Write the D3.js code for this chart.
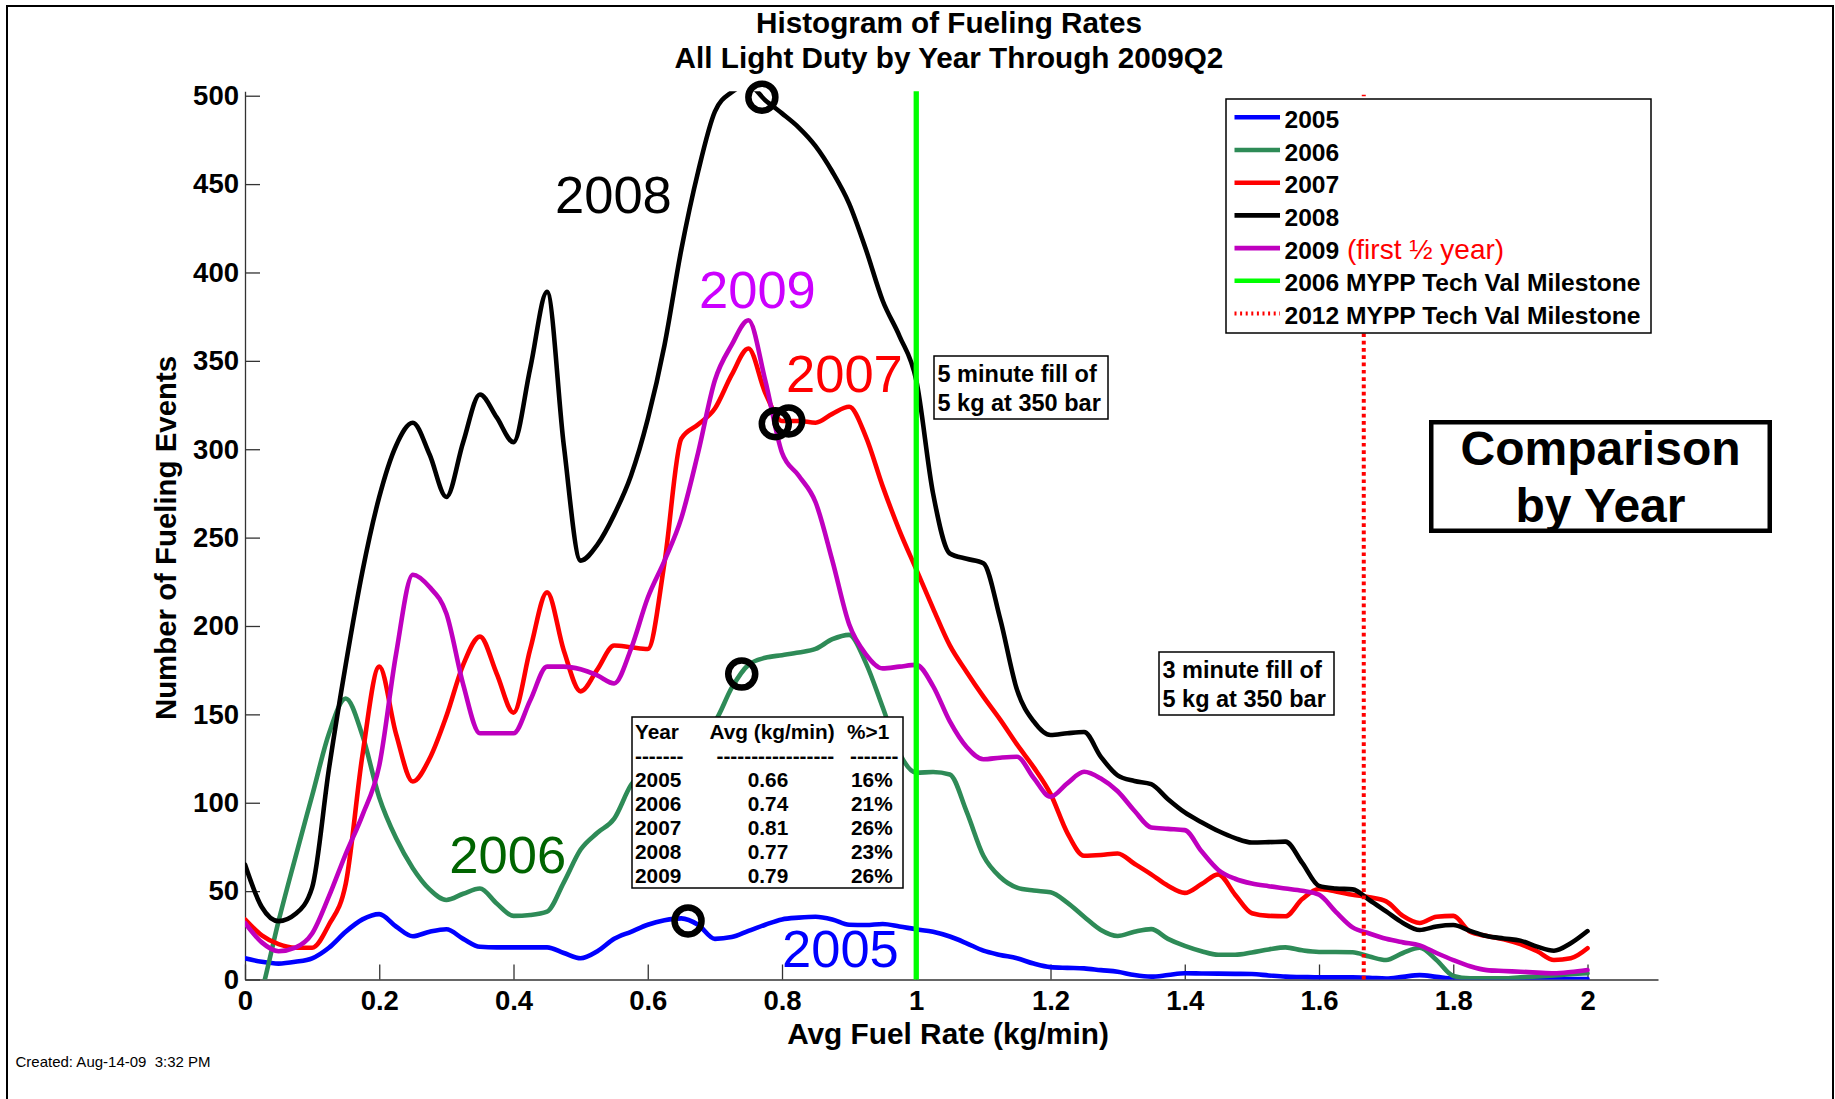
<!DOCTYPE html>
<html>
<head>
<meta charset="utf-8">
<title>Histogram of Fueling Rates</title>
<script src="https://cdn.jsdelivr.net/npm/d3@7"></script>
<style>
  html, body { margin: 0; padding: 0; background: #fff; }
  svg { display: block; font-family: "Liberation Sans", Arial, Helvetica, sans-serif; }
</style>
</head>
<body>
<svg id="chart" width="1835" height="1099"></svg>
<script>
// Average fueling rate bins (kg/min)
const rates = [0, 0.025, 0.05, 0.075, 0.1, 0.125, 0.15, 0.175, 0.2, 0.225,
  0.25, 0.275, 0.3, 0.325, 0.35, 0.375, 0.4, 0.425, 0.45, 0.475,
  0.5, 0.525, 0.55, 0.575, 0.6, 0.625, 0.65, 0.675, 0.7, 0.725,
  0.75, 0.775, 0.8, 0.825, 0.85, 0.875, 0.9, 0.925, 0.95, 0.975,
  1, 1.025, 1.05, 1.075, 1.1, 1.125, 1.15, 1.175, 1.2, 1.225,
  1.25, 1.275, 1.3, 1.325, 1.35, 1.375, 1.4, 1.425, 1.45, 1.475,
  1.5, 1.525, 1.55, 1.575, 1.6, 1.625, 1.65, 1.675, 1.7, 1.725,
  1.75, 1.775, 1.8, 1.825, 1.85, 1.875, 1.9, 1.925, 1.95, 1.975, 2];

// Number of fueling events per bin, by year
const events2005 = [12, 10, 9, 10, 12, 18, 27, 34, 37, 30,
  24.5, 27, 28.4, 23, 18.5, 18.2, 18.2, 18.2, 18.2, 15,
  12, 16, 23, 27, 31, 33.5, 34.6, 31, 23, 24,
  27.5, 31, 34, 35, 35.5, 34, 31, 30.8, 31.4, 30,
  28.4, 27, 24.3, 20.5, 16.3, 13.9, 12, 9, 7, 6.6,
  6.3, 5.3, 4.4, 2.5, 1.6, 2.5, 3.5, 3.4, 3.3, 3.2,
  3.1, 2.3, 1.6, 1.4, 1.2, 1.2, 1.2, 1, 0.5, 1.5,
  2.5, 1.5, 0.5, 0.4, 0.3, 0.3, 0.3, 0.3, 0.3, 0.3, 0.3];

const events2006 = [-40, -7, 33, 69, 104, 139, 159, 138, 103, 80,
  63, 51, 45, 48.5, 51.5, 43, 36, 36.5, 38.4, 55,
  73.5, 83, 91, 110, 120, 128, 134, 140, 146, 165,
  178, 182, 183.5, 185, 187, 192.5, 195, 179, 154, 128,
  117, 117.4, 116, 95, 70, 58, 52, 50.3, 49.3, 43.5,
  35.5, 28, 24.6, 27, 28.5, 23, 19, 16, 14, 14,
  15.3, 17, 18.2, 16.5, 15.6, 15.6, 15.4, 13, 11, 15,
  18, 11, 2, 0.7, 0.7, 0.7, 1.2, 1.7, 2.3, 3, 3.5];

const events2007 = [34, 25, 20, 18, 18, 31, 54, 127, 177, 139,
  112, 125, 149, 178, 194, 173, 151, 187, 219, 186,
  163, 175.5, 189, 188, 187, 236, 306, 314, 323, 342,
  357, 332, 316, 316, 315, 320, 324, 307, 279, 254,
  232, 210, 189, 174, 160, 147, 133, 120, 105, 83,
  70, 70.4, 71.3, 65.5, 59.5, 53, 49, 54, 59.5, 48,
  37.5, 36, 35.8, 45.5, 51.2, 49.8, 48, 46.5, 44.2, 36,
  32, 35.5, 36, 27, 24.6, 22.8, 20, 16, 11, 12, 17.7];

const events2008 = [65, 41, 33, 37, 52, 119, 178, 231, 273, 302,
  315, 297, 273, 304, 331, 318, 304, 346, 389, 302,
  237, 246, 263, 285, 317, 359, 413, 457, 491, 502,
  506, 497.5, 490, 482, 471.5, 457, 439, 413, 384, 364,
  339, 275, 241, 238, 235.5, 204, 164, 146, 138.3, 139.3,
  140, 126, 115.5, 112.3, 110.5, 102, 94.5, 89, 84, 80,
  77.5, 77.7, 78, 66, 53, 51.5, 51, 45, 38.5, 32,
  28, 30, 30.8, 27.5, 24.6, 23.2, 22, 18.6, 16.3, 20.5, 27.4];

const events2009 = [32, 21, 16, 18, 26, 47, 71, 93, 121, 184,
  229, 222, 207, 167, 139.3, 139.3, 139.3, 158, 177, 177,
  175.5, 172, 167.5, 187, 216, 237, 261, 298, 339, 359,
  373, 339, 298, 285, 270, 237, 201, 184, 176, 177,
  178, 166, 146, 131.5, 124.6, 125.5, 126, 114, 103.4, 111,
  117.5, 113.7, 106.5, 95.5, 86, 85.2, 84.5, 72.5, 62, 57,
  54.3, 52.8, 51.5, 50.2, 48, 38.3, 29.5, 26, 23, 21,
  19.3, 15, 11, 7.5, 5.3, 4.8, 4.4, 3.9, 3.5, 4.2, 5.4];

const years = ["2005", "2006", "2007", "2008", "2009"];
const yearColors = ["#0000ff", "#2e8b57", "#ff0000", "#000000", "#bf00bf"];

// Summary statistics per year
const avgRate = [0.66, 0.74, 0.81, 0.77, 0.79];
const avgRateText = ["0.66", "0.74", "0.81", "0.77", "0.79"];
const pctAbove1 = ["16%", "21%", "26%", "23%", "26%"];

// DOE MYPP technology validation milestones (kg/min): 5 kg in 5 min, 5 kg in 3 min
const milestoneRates = [1, 5 / 3];

const xTicks = [0, 0.2, 0.4, 0.6, 0.8, 1, 1.2, 1.4, 1.6, 1.8, 2];
const yTicks = [0, 50, 100, 150, 200, 250, 300, 350, 400, 450, 500];

const seriesValues = [events2005, events2006, events2007, events2008, events2009];
const series = years.map((y, i) => ({
  year: y,
  color: yearColors[i],
  avg: avgRate[i],
  points: rates.map((r, j) => ({ x: r, y: seriesValues[i][j] }))
}));

const svg = d3.select("#chart");
const FONT_BOLD = 700;

// Outer frame
svg.append("rect")
  .attr("x", 7).attr("y", 6).attr("width", 1826).attr("height", 1110)
  .attr("fill", "none").attr("stroke", "#000").attr("stroke-width", 2);

// Scales
const x = d3.scaleLinear().domain([0, 2.105]).range([245, 1658]);
const y = d3.scaleLinear().domain([0, 502.5]).range([979.5, 91.3]);

// Clip region for the plotted lines
svg.append("defs").append("clipPath").attr("id", "plot-clip")
  .append("rect")
  .attr("x", x(0)).attr("y", y(502.5))
  .attr("width", x(2.105) - x(0)).attr("height", y(0) - y(502.5));

// Axes (ticks point inward)
const xAxis = d3.axisBottom(x).tickValues(xTicks).tickFormat(d3.format("~g"))
  .tickSize(-15).tickSizeOuter(0).tickPadding(11);
const yAxis = d3.axisLeft(y).tickValues(yTicks).tickFormat(d3.format("d"))
  .tickSize(-15).tickSizeOuter(0).tickPadding(6);

const gx = svg.append("g").attr("transform", `translate(0,${y(0)})`).call(xAxis);
const gy = svg.append("g").attr("transform", `translate(${x(0)},0)`).call(yAxis);

[gx, gy].forEach(g => {
  g.select(".domain").attr("stroke", "#333").attr("stroke-width", 1.3);
  g.selectAll(".tick line").attr("stroke", "#333").attr("stroke-width", 1.3);
  g.selectAll(".tick text")
    .attr("fill", "#000")
    .style("font-family", "\"Liberation Sans\", Arial, sans-serif")
    .style("font-size", "27.5px")
    .style("font-weight", FONT_BOLD);
});

// Axis titles
svg.append("text")
  .attr("x", 948).attr("y", 1044)
  .attr("text-anchor", "middle")
  .style("font-size", "29.8px").style("font-weight", FONT_BOLD)
  .text("Avg Fuel Rate (kg/min)");

svg.append("text")
  .attr("transform", "translate(176,538) rotate(-90)")
  .attr("text-anchor", "middle")
  .style("font-size", "29.4px").style("font-weight", FONT_BOLD)
  .text("Number of Fueling Events");

// Title
svg.append("text")
  .attr("x", 949).attr("y", 33)
  .attr("text-anchor", "middle")
  .style("font-size", "29.7px").style("font-weight", FONT_BOLD)
  .text("Histogram of Fueling Rates");
svg.append("text")
  .attr("x", 949).attr("y", 68)
  .attr("text-anchor", "middle")
  .style("font-size", "29.7px").style("font-weight", FONT_BOLD)
  .text("All Light Duty by Year Through 2009Q2");

// Yearly histogram lines
const line = d3.line()
  .x(d => x(d.x))
  .y(d => y(d.y))
  .curve(d3.curveMonotoneX);

const linesG = svg.append("g").attr("clip-path", "url(#plot-clip)");
linesG.selectAll("path.series")
  .data(series)
  .join("path")
  .attr("class", "series")
  .attr("d", d => line(d.points))
  .attr("fill", "none")
  .attr("stroke", d => d.color)
  .attr("stroke-width", 4.6)
  .attr("stroke-linejoin", "round")
  .attr("stroke-linecap", "round");

// Milestone lines
svg.append("line")
  .attr("x1", x(milestoneRates[0])).attr("x2", x(milestoneRates[0]))
  .attr("y1", y(0)).attr("y2", y(502.5))
  .attr("stroke", "#00ff00").attr("stroke-width", 5.3);

svg.append("line")
  .attr("x1", x(milestoneRates[1])).attr("x2", x(milestoneRates[1]))
  .attr("y1", y(0)).attr("y2", y(500) - 1)
  .attr("stroke", "#ff0000").attr("stroke-width", 4)
  .attr("stroke-dasharray", "3.7 3.6");

// Average-rate markers on each curve
function valueAt(points, xv) {
  const i = d3.bisector(d => d.x).right(points, xv);
  const a = points[Math.max(0, i - 1)], b = points[Math.min(points.length - 1, i)];
  if (a === b) return a.y;
  const t = (xv - a.x) / (b.x - a.x);
  return a.y + t * (b.y - a.y);
}
svg.selectAll("circle.avg")
  .data(series)
  .join("circle")
  .attr("class", "avg")
  .attr("cx", d => x(d.avg))
  .attr("cy", d => y(valueAt(d.points, d.avg)))
  .attr("r", 13.5)
  .attr("fill", "none")
  .attr("stroke", "#000")
  .attr("stroke-width", 6.5);

// Year labels next to the curves
const yearLabels = [
  { text: "2008", x: 555, y: 213, color: "#000000" },
  { text: "2009", x: 699, y: 308.3, color: "#cc00ff" },
  { text: "2007", x: 786, y: 391.5, color: "#ff0000" },
  { text: "2006", x: 449.3, y: 872.7, color: "#006400" },
  { text: "2005", x: 782, y: 966.7, color: "#0000ff" }
];
svg.selectAll("text.year-label")
  .data(yearLabels)
  .join("text")
  .attr("class", "year-label")
  .attr("x", d => d.x).attr("y", d => d.y)
  .attr("fill", d => d.color)
  .style("font-size", "52.5px")
  .text(d => d.text);

// Fill-time annotation boxes
function noteBox(bx, by, bw, bh, lines) {
  const g = svg.append("g");
  g.append("rect").attr("x", bx).attr("y", by).attr("width", bw).attr("height", bh)
    .attr("fill", "#fff").attr("stroke", "#000").attr("stroke-width", 1.5);
  lines.forEach((t, i) => {
    g.append("text")
      .attr("x", bx + 3.5).attr("y", by + 25.5 + i * 29)
      .style("font-size", "23.5px").style("font-weight", FONT_BOLD)
      .text(t);
  });
}
noteBox(934, 356, 174, 63, ["5 minute fill of", "5 kg at 350 bar"]);
noteBox(1159, 652, 175, 63, ["3 minute fill of", "5 kg at 350 bar"]);

// Summary table
const table = svg.append("g");
table.append("rect").attr("x", 632).attr("y", 717).attr("width", 271).attr("height", 171)
  .attr("fill", "#fff").attr("stroke", "#000").attr("stroke-width", 1.5);
const tableFont = "20.8px";
const headRow = [
  { t: "Year", x: 635, anchor: "start" },
  { t: "Avg (kg/min)", x: 709.5, anchor: "start" },
  { t: "%>1", x: 847, anchor: "start" }
];
const dashRow = [
  { t: "-------", x: 635, anchor: "start" },
  { t: "-----------------", x: 716.5, anchor: "start" },
  { t: "-------", x: 850, anchor: "start" }
];
[headRow, dashRow].forEach((row, r) => {
  table.selectAll(null).data(row).join("text")
    .attr("x", d => d.x).attr("y", 738.5 + r * 24)
    .attr("text-anchor", d => d.anchor)
    .style("font-size", tableFont).style("font-weight", FONT_BOLD)
    .text(d => d.t);
});
years.forEach((yr, i) => {
  const by = 786.5 + i * 24;
  table.append("text").attr("x", 635).attr("y", by)
    .style("font-size", tableFont).style("font-weight", FONT_BOLD).text(yr);
  table.append("text").attr("x", 768).attr("y", by).attr("text-anchor", "middle")
    .style("font-size", tableFont).style("font-weight", FONT_BOLD).text(avgRateText[i]);
  table.append("text").attr("x", 851).attr("y", by)
    .style("font-size", tableFont).style("font-weight", FONT_BOLD).text(pctAbove1[i]);
});

// Legend
const legendItems = years.map((yr, i) => ({ label: yr, color: yearColors[i], dashed: false }))
  .concat([
    { label: "2006 MYPP Tech Val Milestone", color: "#00ff00", dashed: false },
    { label: "2012 MYPP Tech Val Milestone", color: "#ff0000", dashed: true }
  ]);
const legend = svg.append("g");
legend.append("rect").attr("x", 1226).attr("y", 99).attr("width", 425).attr("height", 234)
  .attr("fill", "#fff").attr("stroke", "#000").attr("stroke-width", 1.5);
legendItems.forEach((d, i) => {
  const ly = 117.3 + i * 32.7;
  legend.append("line")
    .attr("x1", 1234.5).attr("x2", 1280).attr("y1", ly).attr("y2", ly)
    .attr("stroke", d.color).attr("stroke-width", d.dashed ? 4 : 4.6)
    .attr("stroke-dasharray", d.dashed ? "2 3.6" : null);
  const t = legend.append("text")
    .attr("x", 1284.5).attr("y", ly + 10.5)
    .style("font-size", "24.6px").style("font-weight", FONT_BOLD)
    .text(d.label);
  if (d.label === "2009") {
    t.append("tspan").attr("fill", "#ff0000")
      .style("font-weight", 400).style("font-size", "28px")
      .text(" (first \u00bd year)");
  }
});

// Title box on the right
svg.append("rect").attr("x", 1431.25).attr("y", 422.25).attr("width", 338.5).attr("height", 108.5)
  .attr("fill", "#fff").attr("stroke", "#000").attr("stroke-width", 4.5);
svg.append("text").attr("x", 1600.5).attr("y", 465).attr("text-anchor", "middle")
  .style("font-size", "48px").style("font-weight", FONT_BOLD).text("Comparison");
svg.append("text").attr("x", 1600.5).attr("y", 521.7).attr("text-anchor", "middle")
  .style("font-size", "48px").style("font-weight", FONT_BOLD).text("by Year");

// Creation stamp
svg.append("text").attr("x", 15.5).attr("y", 1067)
  .style("font-size", "15px").style("white-space", "pre")
  .text("Created: Aug-14-09  3:32 PM");
</script>
</body>
</html>
